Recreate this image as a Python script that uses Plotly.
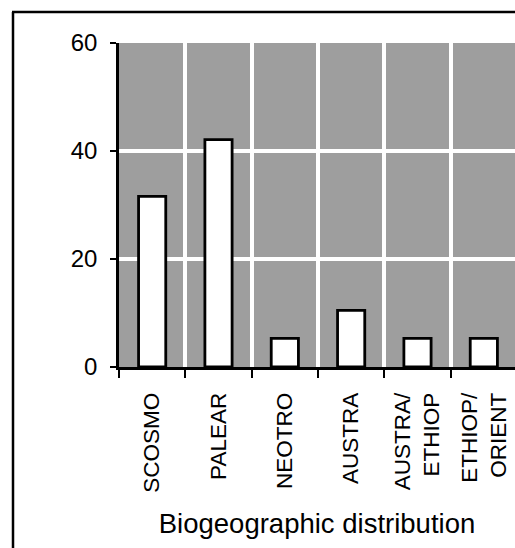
import plotly.graph_objects as go

categories = ["SCOSMO", "PALEAR", "NEOTRO", "AUSTRA", "AUSTRA/<br>ETHIOP", "ETHIOP/<br>ORIENT"]
values = [31.6, 42.1, 5.3, 10.5, 5.3, 5.3]
y_ticks = [0, 20, 40, 60]
x_title = "Biogeographic distribution"

W, H = 515, 548
ml, mr, mt, mb = 119, 0, 43, 181

fig = go.Figure(go.Bar(
    x=categories, y=values, width=0.41,
    marker=dict(color="white", line=dict(color="black", width=2.8)),
))

fig.update_layout(
    width=W, height=H,
    margin=dict(l=ml, r=mr, t=mt, b=mb, pad=0),
    paper_bgcolor="white",
    plot_bgcolor="#9e9e9e",
    showlegend=False,
    font=dict(family="Liberation Sans, Arial, sans-serif", color="#000"),
)

fig.update_xaxes(
    type="category",
    range=[-0.5, 5.47],
    tickson="boundaries",
    showgrid=True, gridcolor="white", gridwidth=4,
    ticks="outside", ticklen=8, tickwidth=2, tickcolor="black",
    showline=True, linecolor="black", linewidth=2.5,
    tickangle=-90,
    tickfont=dict(size=22.5, color="#000"),
    ticklabelstandoff=14,
    title=dict(text=x_title, font=dict(size=27.5, color="#000"), standoff=22),
)

fig.update_yaxes(
    range=[0, 60],
    tickvals=y_ticks,
    showgrid=True, gridcolor="white", gridwidth=4,
    zeroline=False,
    ticks="outside", ticklen=6, tickwidth=2, tickcolor="black",
    showline=True, linecolor="black", linewidth=2.5,
    tickfont=dict(size=24, color="#000"),
    ticklabelstandoff=8,
)

# outer frame (left and top border of the original panel)
pw = W - ml - mr
ph = H - mt - mb
def px2paper_x(px):
    return (px - ml) / pw
def px2paper_y(py):
    return (H - mb - py) / ph

fig.add_shape(type="line", xref="paper", yref="paper",
              x0=px2paper_x(13), x1=px2paper_x(13),
              y0=px2paper_y(12), y1=px2paper_y(548),
              line=dict(color="black", width=2.5))
fig.add_shape(type="line", xref="paper", yref="paper",
              x0=px2paper_x(12), x1=px2paper_x(515),
              y0=px2paper_y(12), y1=px2paper_y(12),
              line=dict(color="black", width=2.5))

fig.write_html(
    "out.html",
    config={"displayModeBar": False},
    post_script="document.body.style.margin='0';document.body.style.overflow='hidden';",
)
